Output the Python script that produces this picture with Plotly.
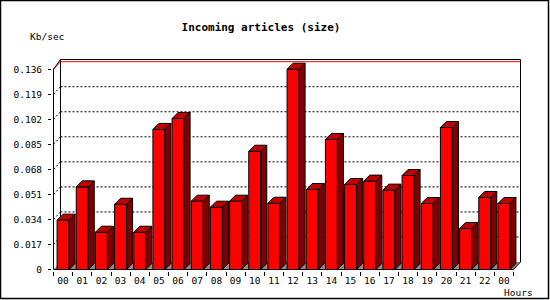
import plotly.graph_objects as go

# ---------------- data ----------------
hours = ["00", "01", "02", "03", "04", "05", "06", "07", "08", "09", "10", "11",
         "12", "13", "14", "15", "16", "17", "18", "19", "20", "21", "22", "00"]
kb_per_sec = [0.0335, 0.0561, 0.0253, 0.0443, 0.0253, 0.0951, 0.1025, 0.0464,
              0.0423, 0.0464, 0.0803, 0.0450, 0.1360, 0.0543, 0.0883, 0.0577,
              0.0600, 0.0539, 0.0638, 0.0448, 0.0964, 0.0278, 0.0489, 0.0448]
y_tick_vals = [0, 0.017, 0.034, 0.051, 0.068, 0.085, 0.102, 0.119, 0.136]
y_tick_text = ["0", "0.017", "0.034", "0.051", "0.068", "0.085", "0.102", "0.119", "0.136"]
title_text = "Incoming articles (size)"
y_title = "Kb/sec"
x_title = "Hours"

# ---------------- geometry (pixels) ----------------
W, H = 550, 300
ML, MR, MT, MB = 52, 28, 58, 29
plot_w = W - ML - MR
plot_h = H - MT - MB
PAD = 1.5
DEPTH_X, DEPTH_Y = 7.0, 7.5      # back-plane offset
BAR_DX, BAR_DY = 6.0, 6.0        # bar depth
n = len(hours)
px_per_cat = (plot_w - 2 * PAD - DEPTH_X) / n
px_per_val = 25.04 / 0.017

dx = DEPTH_X / px_per_cat
dy = DEPTH_Y / px_per_val
bdx = BAR_DX / px_per_cat
bdy = BAR_DY / px_per_val
bar_w = 12.0 / px_per_cat

x_left = -0.5
x_right = n - 0.5
y_top = (plot_h - 2 * PAD) / px_per_val
xr = [x_left - PAD / px_per_cat, x_right + dx + PAD / px_per_cat]
yr = [-PAD / px_per_val, (plot_h - PAD) / px_per_val]

xs = list(range(n))

FRONT = "#ff0000"
TOP = "#c00000"
SIDE = "#800000"
FLOOR = "#8c8c8c"
FONT = "DejaVu Sans Mono"

# ---------------- 3D faces ----------------
side_x, side_y, top_x, top_y = [], [], [], []
for x, v in zip(xs, kb_per_sec):
    r = x + bar_w / 2
    l = x - bar_w / 2
    side_x += [r, r + bdx, r + bdx, r, r, None]
    side_y += [0, bdy, v + bdy, v, 0, None]
    top_x += [l, l + bdx, r + bdx, r, l, None]
    top_y += [v, v + bdy, v + bdy, v, v, None]

fig = go.Figure()
fig.add_trace(go.Bar(x=xs, y=kb_per_sec, width=bar_w,
                     marker=dict(color=FRONT, line=dict(color="black", width=1)),
                     hoverinfo="skip"))
fig.add_trace(go.Scatter(x=side_x, y=side_y, fill="toself", fillcolor=SIDE,
                         mode="lines", line=dict(color="black", width=1),
                         hoverinfo="skip"))
fig.add_trace(go.Scatter(x=top_x, y=top_y, fill="toself", fillcolor=TOP,
                         mode="lines", line=dict(color="black", width=1),
                         hoverinfo="skip"))

# ---------------- frame, floor, grid ----------------
shapes = []
shapes.append(dict(type="path", layer="below", xref="x", yref="y",
                   path=f"M{x_left},0 L{x_right},0 L{x_right+dx},{dy} L{x_left+dx},{dy} Z",
                   fillcolor=FLOOR, line=dict(width=0)))
for v in y_tick_vals[1:-1]:
    shapes.append(dict(type="line", layer="below", xref="x", yref="y",
                       x0=x_left + dx, x1=x_right + dx, y0=v + dy, y1=v + dy,
                       line=dict(color="black", width=1, dash="2px,2px")))
    shapes.append(dict(type="line", layer="below", xref="x", yref="y",
                       x0=x_left, x1=x_left + dx, y0=v, y1=v + dy,
                       line=dict(color="black", width=1, dash="2px,2px")))
shapes.append(dict(type="path", layer="below", xref="x", yref="y",
                   path=f"M{x_left+dx},{dy} L{x_left+dx},{y_top} L{x_right+dx},{y_top} L{x_right+dx},{dy}",
                   line=dict(color="black", width=1)))
vmax = max(kb_per_sec)
shapes.append(dict(type="line", layer="below", xref="x", yref="y",
                   x0=x_left + dx, x1=x_right + dx, y0=vmax + dy, y1=vmax + dy,
                   line=dict(color="red", width=1)))
shapes.append(dict(type="line", layer="below", xref="x", yref="y",
                   x0=x_left, x1=x_left + dx, y0=vmax, y1=vmax + dy,
                   line=dict(color="red", width=1)))
# axes
yt = y_tick_vals[-1]
shapes.append(dict(type="path", layer="below", xref="x", yref="y",
                   path=f"M{x_left+dx},{y_top} L{x_left},{yt} L{x_left},0 L{x_right},0 L{x_right+dx},{dy}",
                   line=dict(color="black", width=1)))
# outer border
shapes.append(dict(type="rect", xref="paper", yref="paper",
                   x0=(0.5 - ML) / plot_w, x1=(548.5 - ML) / plot_w,
                   y0=(plot_h + MT - 298.5) / plot_h, y1=(plot_h + MT - 0.5) / plot_h,
                   line=dict(color="black", width=1.5)))

annotations = [
    dict(text=y_title, xref="paper", yref="paper",
         x=(28 - ML) / plot_w, y=(plot_h + MT - 37) / plot_h,
         xanchor="left", yanchor="middle", showarrow=False,
         font=dict(family=FONT, size=9.5, color="black")),
    dict(text=x_title, xref="paper", yref="paper",
         x=(535 - ML) / plot_w, y=(plot_h + MT - 292) / plot_h,
         xanchor="right", yanchor="middle", showarrow=False,
         font=dict(family=FONT, size=9.5, color="black")),
]

fig.update_layout(
    width=W, height=H,
    margin=dict(l=ML, r=MR, t=MT, b=MB, pad=0),
    paper_bgcolor="white", plot_bgcolor="white",
    showlegend=False,
    title=dict(text=f"<b>{title_text}</b>", xref="container", yref="container",
               x=261 / W, y=1 - 27 / H, xanchor="center", yanchor="middle",
               font=dict(family=FONT, size=11, color="black")),
    shapes=shapes,
    annotations=annotations,
    xaxis=dict(range=xr, tickmode="array", tickvals=xs, ticktext=hours,
               ticks="", showgrid=False, zeroline=False, showline=False,
               tickfont=dict(family=FONT, size=9.5, color="black"),
               ticklabelstandoff=2,
               minor=dict(tickmode="array",
                          tickvals=[x - 0.5 for x in xs] + [x_right],
                          ticks="outside", ticklen=4, tickcolor="black", tickwidth=1,
                          showgrid=False),
               fixedrange=True),
    yaxis=dict(range=yr, tickmode="array", tickvals=y_tick_vals, ticktext=y_tick_text,
               ticks="outside", ticklen=3, tickcolor="black", tickwidth=1,
               showgrid=False, zeroline=False, showline=False,
               tickfont=dict(family=FONT, size=9.5, color="black"),
               ticklabelstandoff=4, fixedrange=True),
)

fig.write_html("out.html")
